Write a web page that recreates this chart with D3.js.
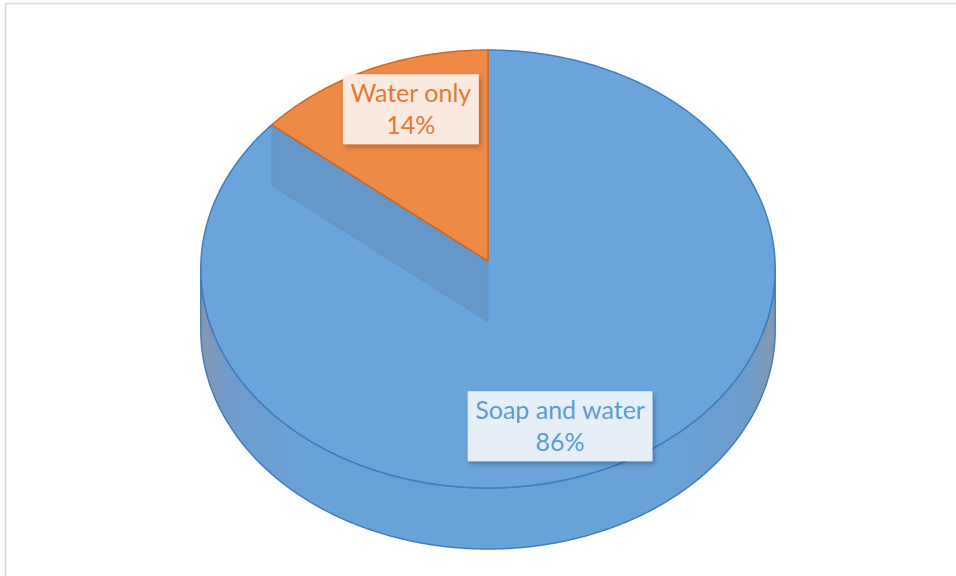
<!DOCTYPE html>
<html>
<head>
<meta charset="utf-8">
<script src="https://cdn.jsdelivr.net/npm/d3@7"></script>
<style>
  html, body { margin: 0; padding: 0; background: #ffffff; }
  svg { display: block; }
</style>
</head>
<body>
<svg id="chart" width="956" height="576"></svg>
<script>
// Hand-washing method shares
const categories = ["Soap and water", "Water only"];
const values = [86, 14];
const valueLabels = ["86%", "14%"];

const W = 956, H = 576;
const svg = d3.select("#chart");

// 3D pie geometry (tilted disc with slight perspective)
const cx = 488, cy = 261;     // projected centre of the disc
const rx = 287, ry = 218.7;   // projected radii
const k = 0.0365;             // perspective strength (far side shrinks)
const depth = 61;             // thickness of the pie

const topFill = ["#6aa4da", "#ee8a45"];
const edgeStroke = ["#3f7dbf", "#d2671f"];
const textFill = ["#5b9bd5", "#e27a33"];
const boxFill = ["#eff5fc", "#fdf1ea"];

function proj(theta, r = 1, dz = 0) {
  const u = Math.sin(theta) * r, v = Math.cos(theta) * r;
  const f = 1 / (1 + k * v);
  return [cx + rx * u * f, cy - ry * v * f + dz];
}

const pie = d3.pie().sort(null).startAngle(0).endAngle(2 * Math.PI);
const arcs = pie(values);
const line = d3.line();

const defs = svg.append("defs");
const grad = defs.append("linearGradient")
  .attr("id", "sideGrad").attr("x1", "0%").attr("x2", "100%").attr("y1", "0%").attr("y2", "0%");
[[0, "#8497ad"], [0.05, "#6f9bcc"], [0.18, "#69a2d8"], [0.82, "#69a2d8"], [0.95, "#6f9bcc"], [1, "#8497ad"]]
  .forEach(([o, c]) => grad.append("stop").attr("offset", o).attr("stop-color", c));

const shadow = defs.append("filter").attr("id", "boxShadow")
  .attr("x", "-10%").attr("y", "-10%").attr("width", "130%").attr("height", "140%");
shadow.append("feDropShadow").attr("dx", 2).attr("dy", 3).attr("stdDeviation", 2.5)
  .attr("flood-color", "#000").attr("flood-opacity", 0.28);

// chart frame
svg.append("rect").attr("x", 5.5).attr("y", 3.5).attr("width", W + 20).attr("height", H + 20)
  .attr("fill", "none").attr("stroke", "#d9d9d9").attr("stroke-width", 1.5);

// outer side wall: front half of the rim between the leftmost and rightmost points
const N = 720;
const samples = d3.range(N + 1).map(i => (i / N) * 2 * Math.PI);
const iR = d3.maxIndex(samples, t => proj(t)[0]);
const iL = d3.minIndex(samples, t => proj(t)[0]);
const front = samples.slice(iR, iL + 1);
const sidePts = front.map(t => proj(t))
  .concat(front.slice().reverse().map(t => proj(t, 1, depth)));
svg.append("path")
  .attr("d", line(sidePts) + "Z")
  .attr("fill", "url(#sideGrad)")
  .attr("stroke", edgeStroke[0]).attr("stroke-width", 1.5).attr("stroke-linejoin", "round");

// top face of each slice
function slicePath(a) {
  const n = Math.max(2, Math.ceil((a.endAngle - a.startAngle) / (2 * Math.PI) * N));
  const pts = [[cx, cy]].concat(d3.range(n + 1).map(i =>
    proj(a.startAngle + (a.endAngle - a.startAngle) * i / n)));
  return line(pts) + "Z";
}

svg.append("path")
  .attr("d", slicePath(arcs[0]))
  .attr("fill", topFill[0])
  .attr("stroke", edgeStroke[0]).attr("stroke-width", 1.5).attr("stroke-linejoin", "round");

// radial wall of the large slice along the cut
const cutAngle = arcs[1].startAngle;
const pOut = proj(cutAngle);
const wallPts = [pOut, [cx, cy], [cx, cy + depth], [pOut[0], pOut[1] + depth]];
svg.append("path")
  .attr("d", line(wallPts) + "Z")
  .attr("fill", "#59799e").attr("fill-opacity", 0.3)
  .attr("stroke", "#5f88b4").attr("stroke-opacity", 0.35).attr("stroke-width", 1);

svg.append("path")
  .attr("d", slicePath(arcs[1]))
  .attr("fill", topFill[1])
  .attr("stroke", edgeStroke[1]).attr("stroke-width", 1.5).attr("stroke-linejoin", "round");

// data labels
const fontSize = 25;
arcs.forEach((a, i) => {
  const mid = (a.startAngle + a.endAngle) / 2;
  const u = Math.sin(mid), v = Math.cos(mid);
  const f = 1 / (1 + k * v);
  const lx = cx + rx * 0.61 * u * f - 5;
  const ly = cy - ry * 0.8 * v * f + 1.5;

  const g = svg.append("g").attr("transform", `translate(${lx},${ly})`);
  const rect = g.append("rect").attr("fill", boxFill[i]).attr("fill-opacity", 0.93)
    .attr("filter", "url(#boxShadow)");
  const txt = g.append("text")
    .attr("text-anchor", "middle")
    .attr("font-family", "Lato, 'Open Sans', sans-serif")
    .attr("font-size", fontSize)
    .attr("fill", textFill[i]);
  txt.append("tspan").attr("x", 0).attr("y", -7).text(categories[i]);
  txt.append("tspan").attr("x", 0).attr("y", 25).text(valueLabels[i]);

  const bb = txt.node().getBBox();
  const padX = 7.5;
  rect.attr("x", bb.x - padX).attr("y", -35)
    .attr("width", bb.width + 2 * padX).attr("height", 70);
});
</script>
</body>
</html>
